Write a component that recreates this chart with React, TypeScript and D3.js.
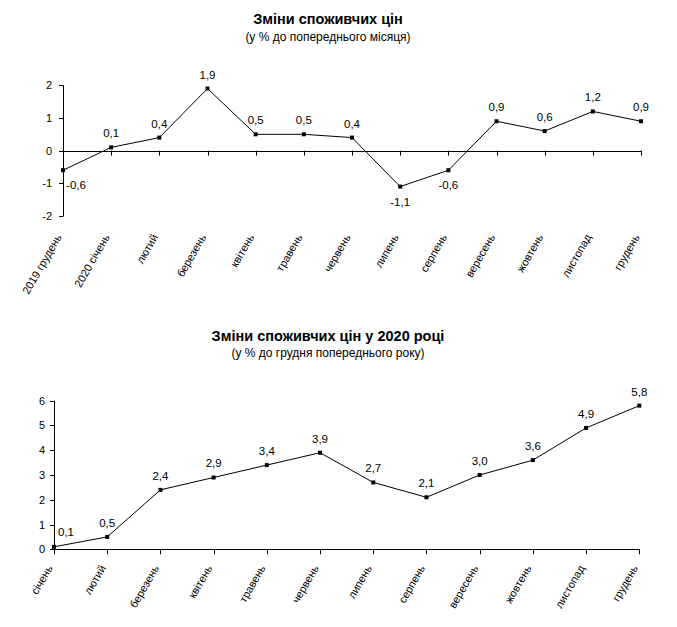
import React from "react";
import * as d3 from "d3";

const months1 = ["2019 грудень", "2020 січень", "лютий", "березень", "квітень", "травень", "червень", "липень", "серпень", "вересень", "жовтень", "листопад", "грудень"];
const values1 = [-0.6, 0.1, 0.4, 1.9, 0.5, 0.5, 0.4, -1.1, -0.6, 0.9, 0.6, 1.2, 0.9];
const ticks1 = [-2, -1, 0, 1, 2];

const months2 = ["січень", "лютий", "березень", "квітень", "травень", "червень", "липень", "серпень", "вересень", "жовтень", "листопад", "грудень"];
const values2 = [0.1, 0.5, 2.4, 2.9, 3.4, 3.9, 2.7, 2.1, 3.0, 3.6, 4.9, 5.8];
const ticks2 = [0, 1, 2, 3, 4, 5, 6];

const FONT = "'Liberation Sans', Arial, sans-serif";
const fmt = (v: number) => v.toFixed(1).replace(".", ",");

type ChartProps = {
  cats: string[];
  vals: number[];
  ticks: number[];
  xRange: [number, number];
  yDomain: [number, number];
  yRange: [number, number];
  labelY: number;
  labelDx: number;
  title: string;
  subtitle: string;
  titleY: number;
  subY: number;
  titleX: number;
  tickLabelGap: number;
};

function Chart(p: ChartProps) {
  const x = d3.scalePoint<string>().domain(p.cats).range(p.xRange);
  const y = d3.scaleLinear().domain(p.yDomain).range(p.yRange);
  const line = d3
    .line<number>()
    .x((_, i) => x(p.cats[i]) as number)
    .y((d) => y(d));
  const axisX = p.xRange[0];
  const zeroY = y(0);
  return (
    <g>
      <text x={p.titleX} y={p.titleY} textAnchor="middle" fontFamily={FONT} fontWeight="bold" fontSize={14.5} fill="#000">
        {p.title}
      </text>
      <text x={p.titleX} y={p.subY} textAnchor="middle" fontFamily={FONT} fontSize={12} fill="#000">
        {p.subtitle}
      </text>
      {/* y axis */}
      <line x1={axisX + 0.5} x2={axisX + 0.5} y1={y(p.yDomain[1])} y2={y(p.yDomain[0])} stroke="#000" strokeWidth={1} />
      {p.ticks.map((t) => (
        <g key={t}>
          <line x1={axisX - 4} x2={axisX + 0.5} y1={Math.round(y(t)) + 0.5} y2={Math.round(y(t)) + 0.5} stroke="#000" />
          <text x={axisX - p.tickLabelGap} y={y(t) + 4} textAnchor="end" fontFamily={FONT} fontSize={11} fill="#000">
            {t}
          </text>
        </g>
      ))}
      {/* x axis at zero */}
      <line x1={axisX} x2={p.xRange[1]} y1={Math.round(zeroY) + 0.5} y2={Math.round(zeroY) + 0.5} stroke="#000" />
      {p.cats.map((c) => (
        <line key={c} x1={Math.round(x(c) as number) + 0.5} x2={Math.round(x(c) as number) + 0.5} y1={zeroY} y2={zeroY + 5} stroke="#000" />
      ))}
      {p.cats.map((c) => (
        <text
          key={"l" + c}
          transform={`translate(${(x(c) as number) - 1},${p.labelY}) rotate(-60)`}
          textAnchor="end"
          fontFamily={FONT}
          fontSize={11}
          fill="#000"
        >
          {c}
        </text>
      ))}
      <path d={line(p.vals) || ""} fill="none" stroke="#000" strokeWidth={1} />
      {p.vals.map((v, i) => (
        <rect key={"m" + i} x={(x(p.cats[i]) as number) - 2} y={y(v) - 2} width={4} height={4} fill="#000" />
      ))}
      {p.vals.map((v, i) => {
        const px = x(p.cats[i]) as number;
        const py = y(v);
        const dx = i === 0 ? p.labelDx : 0;
        return (
          <text
            key={"v" + i}
            x={px + dx}
            y={v < 0 ? py + 19 : i === 0 ? py - 11 : py - 10}
            textAnchor="middle"
            fontFamily={FONT}
            fontSize={11.5}
            fill="#000"
          >
            {fmt(v)}
          </text>
        );
      })}
    </g>
  );
}

export default function App() {
  return (
    <svg width={677} height={627} style={{ position: "absolute", left: 0, top: 0, background: "#fff" }}>
      <rect width={677} height={627} fill="#fff" />
      <Chart
        cats={months1}
        vals={values1}
        ticks={ticks1}
        xRange={[63, 641]}
        yDomain={[-2, 2]}
        yRange={[216, 85.3]}
        labelY={237}
        labelDx={13}
        title="Зміни споживчих цін"
        subtitle="(у % до попереднього місяця)"
        titleY={24}
        subY={41}
        titleX={328}
        tickLabelGap={11}
      />
      <Chart
        cats={months2}
        vals={values2}
        ticks={ticks2}
        xRange={[54, 639.3]}
        yDomain={[0, 6]}
        yRange={[549.3, 400.7]}
        labelY={568}
        labelDx={12}
        title="Зміни споживчих цін у 2020 році"
        subtitle="(у % до грудня попереднього року)"
        titleY={341}
        subY={357}
        titleX={328}
        tickLabelGap={9}
      />
    </svg>
  );
}
